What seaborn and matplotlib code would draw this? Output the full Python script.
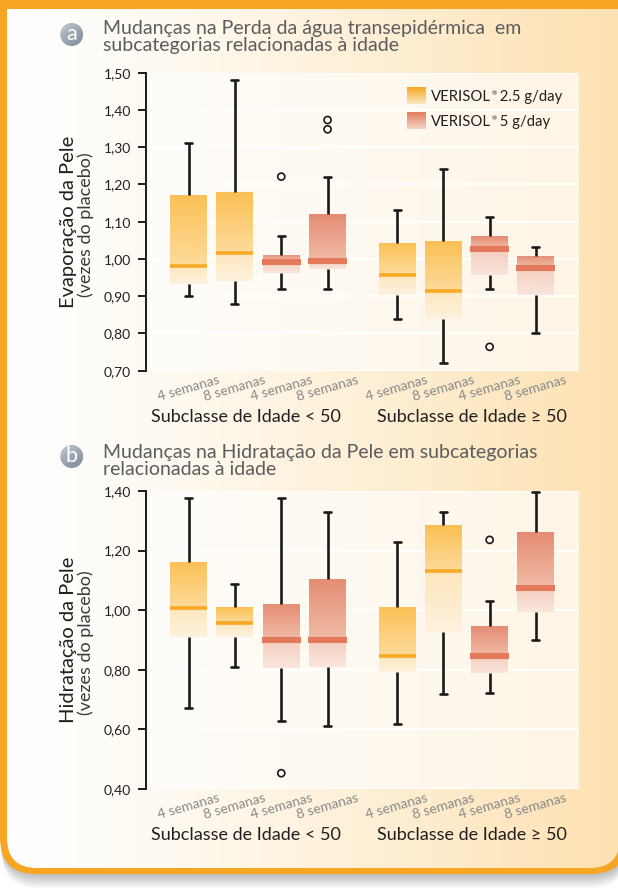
import numpy as np
import pandas as pd
import matplotlib
matplotlib.use("Agg")
import matplotlib.pyplot as plt
from matplotlib.patches import FancyBboxPatch, Circle, Rectangle
from matplotlib.colors import to_rgb
from matplotlib.ticker import FuncFormatter
import seaborn as sns

# ---------------- data ----------------
positions = [0, 1, 2, 3, 4.5, 5.5, 6.5, 7.5]
week_labels = ["4 semanas", "8 semanas", "4 semanas", "8 semanas",
               "4 semanas", "8 semanas", "4 semanas", "8 semanas"]
dose = ["2.5", "2.5", "5", "5", "2.5", "2.5", "5", "5"]
dose_order = ["2.5", "5"]
legend_brand = "VERISOL"
legend_mark = "®"
legend_rest = [" 2.5 g/day", " 5 g/day"]
group_labels = ["Subclasse de Idade < 50", "Subclasse de Idade ≥ 50"]

a_title = ["Mudanças na Perda da água transepidérmica  em",
           "subcategorias relacionadas à idade"]
a_ylabel = ["Evaporação da Pele", "(vezes do placebo)"]
a_whislo = [0.90, 0.88, 0.92, 0.92, 0.84, 0.72, 0.92, 0.80]
a_q1 = [0.933, 0.942, 0.961, 0.972, 0.902, 0.838, 0.958, 0.902]
a_med = [0.980, 1.017, 0.993, 0.995, 0.957, 0.915, 1.027, 0.977]
a_q3 = [1.172, 1.179, 1.010, 1.121, 1.043, 1.047, 1.062, 1.008]
a_whishi = [1.310, 1.480, 1.062, 1.219, 1.131, 1.242, 1.113, 1.033]
a_out_idx = [2, 3, 3, 6]
a_out_val = [1.221, 1.348, 1.373, 0.764]
a_yticks = [0.70, 0.80, 0.90, 1.00, 1.10, 1.20, 1.30, 1.40, 1.50]

b_title = ["Mudanças na Hidratação da Pele em subcategorias",
           "relacionadas à idade"]
b_ylabel = ["Hidratação da Pele", "(vezes do placebo)"]
b_whislo = [0.672, 0.809, 0.629, 0.611, 0.618, 0.720, 0.723, 0.900]
b_q1 = [0.909, 0.911, 0.805, 0.809, 0.792, 0.928, 0.789, 0.993]
b_med = [1.006, 0.958, 0.901, 0.901, 0.847, 1.133, 0.847, 1.075]
b_q3 = [1.161, 1.010, 1.021, 1.105, 1.011, 1.286, 0.946, 1.261]
b_whishi = [1.378, 1.088, 1.378, 1.330, 1.229, 1.330, 1.031, 1.397]
b_out_idx = [2, 6]
b_out_val = [0.453, 1.236]
b_yticks = [0.40, 0.60, 0.80, 1.00, 1.20, 1.40]

# ---------------- style ----------------
ORANGE = dict(top="#FBBC48", mid="#FDD995", low="#FDE5B8", bottom="#FEF2DE",
              median="#F8AA26", mlw=2.6, leg_top="#F7A823", leg_bot="#FDE8C2")
RED = dict(top="#E4846A", mid="#F0B7A1", low="#F4CBBB", bottom="#F9E5DB",
           median="#E27A5B", mlw=4.4, leg_top="#E27D5D", leg_bot="#F6D3C4")
schemes = {"2.5": ORANGE, "5": RED}
palette = {k: v["top"] for k, v in schemes.items()}

sns.set_theme(style="white")
plt.rcParams["font.family"] = ["Lato", "DejaVu Sans"]

W, H = 618, 888
fig = plt.figure(figsize=(W / 100, H / 100), dpi=100)
fig.patch.set_facecolor("white")

bg = fig.add_axes([0, 0, 1, 1], zorder=-10)
bg.set_xlim(0, W)
bg.set_ylim(H, 0)
bg.axis("off")

# shadow
for k in range(12):
    bg.add_patch(FancyBboxPatch((1, -60), 627, 934 + 1.3 * k,
                                boxstyle="round,pad=0,rounding_size=38",
                                fc="black", ec="none", alpha=0.022))
# orange frame
bg.add_patch(FancyBboxPatch((0, -60), 627, 934,
                            boxstyle="round,pad=0,rounding_size=36",
                            fc="#F6A623", ec="none"))
inner = FancyBboxPatch((7, -60), 613, 928, boxstyle="round,pad=0,rounding_size=30",
                       fc="none", ec="none")
bg.add_patch(inner)
t = np.linspace(0, 1, 512) ** 1.25
cl, cr = np.array(to_rgb("#FFFFFF")), np.array(to_rgb("#FDE1B0"))
img = (cl[None, :] * (1 - t[:, None]) + cr[None, :] * t[:, None])[None, :, :]
im = bg.imshow(img, extent=(7, 620, 868, -60), aspect="auto", interpolation="bilinear", zorder=1)
im.set_clip_path(inner)
bg.add_patch(Rectangle((0, -5), 630, 14, fc="#F6A623", ec="none", zorder=1.5))


def badge(cx, cy, letter):
    r = 11.5
    circ = Circle((cx, cy), r, fc="none", ec="none")
    bg.add_patch(circ)
    yy, xx = np.mgrid[0:1:64j, 0:1:64j]
    s = np.clip((xx * 0.6 + yy * 0.8) / 1.4, 0, 1)[..., None]
    c1, c2 = np.array(to_rgb("#C3CAD1")), np.array(to_rgb("#7B8895"))
    g = c1 * (1 - s) + c2 * s
    gi = bg.imshow(g, extent=(cx - r, cx + r, cy + r, cy - r),
                   aspect="auto", interpolation="bilinear", zorder=2)
    gi.set_clip_path(circ)
    bg.text(cx, cy - 1, letter, color="white", fontsize=15.5, ha="center",
            va="center", zorder=3)


badge(71.7, 34.5, "a")
badge(71.7, 456.5, "b")
title_kw = dict(fontsize=14, color="#5B5C5E", va="baseline", ha="left", zorder=3)
bg.text(103, 34.3, a_title[0], **title_kw)
bg.text(103, 51.5, a_title[1], **title_kw)
bg.text(103, 458.3, b_title[0], **title_kw)
bg.text(103, 474.5, b_title[1], **title_kw)

ax_left, ax_w = 150, 429
axA = fig.add_axes([ax_left / W, (H - 370.7) / H, ax_w / W, 298 / H])
axB = fig.add_axes([ax_left / W, (H - 789.0) / H, ax_w / W, 298 / H])


def vgrad(top, mid, low, bottom, frac, n=300):
    tt = np.linspace(0, 1, n)
    top, mid, low, bottom = (np.array(to_rgb(c)) for c in (top, mid, low, bottom))
    out = np.zeros((n, 1, 3))
    for i, v in enumerate(tt):
        if v < frac:
            s = v / max(frac, 1e-6)
            out[i, 0] = top * (1 - s) + mid * s
        else:
            s = (v - frac) / max(1 - frac, 1e-6)
            out[i, 0] = low * (1 - s) + bottom * s
    return out


def draw_panel(ax, whislo, q1, med, q3, whishi, out_idx, out_val, yticks, ylabel):
    rows = []
    for i, p in enumerate(positions):
        for v in (whislo[i], q1[i], med[i], q3[i], whishi[i]):
            rows.append({"pos": p, "dose": dose[i], "value": v})
    df = pd.DataFrame(rows)

    ax.patch.set_visible(False)
    tt = np.linspace(0, 1, 256)
    c1, c2 = np.array(to_rgb("#FFFDFA")), np.array(to_rgb("#FEF5E6"))
    ga = (c1[None, :] * (1 - tt[:, None]) + c2[None, :] * tt[:, None])[None, :, :]
    ax.imshow(ga, extent=(0, 1, 0, 1), transform=ax.transAxes, aspect="auto",
              interpolation="bilinear", zorder=0)

    sns.boxplot(data=df, x="pos", y="value", hue="dose", hue_order=dose_order,
                palette=palette, native_scale=True, dodge=False, width=0.8,
                whis=(0, 100), showfliers=False, linecolor="#1a1a1a",
                linewidth=1.8, legend=False, ax=ax)

    for cont in ax.containers:
        if not hasattr(cont, "boxes"):
            continue
        for i, box in enumerate(cont.boxes):
            fc = np.array(box.get_facecolor()[:3])
            key = min(schemes, key=lambda k: np.abs(fc - np.array(to_rgb(schemes[k]["top"]))).sum())
            sc = schemes[key]
            bb = box.get_path().get_extents()
            m = cont.medians[i]
            mv = float(np.mean(m.get_ydata()))
            frac = (bb.y1 - mv) / (bb.y1 - bb.y0)
            g = vgrad(sc["top"], sc["mid"], sc["low"], sc["bottom"], frac)
            gi = ax.imshow(g, extent=(bb.x0, bb.x1, bb.y0, bb.y1), origin="upper",
                           aspect="auto", interpolation="bilinear", zorder=1.8,
                           alpha=0.93)
            gi.set_clip_path(box)
            box.set_facecolor("none")
            box.set_edgecolor("none")
            m.set_color(sc["median"])
            m.set_linewidth(sc["mlw"])
            m.set_zorder(2.2)
            if key == "5":
                xd = m.get_xdata()
                xc = float(np.mean(xd))
                m.set_xdata([xc - 0.42, xc + 0.42])
            for ln in cont.whiskers[2 * i:2 * i + 2]:
                ln.set_color("#1a1a1a")
                ln.set_linewidth(1.9)
                ln.set_zorder(3)
            for cp in cont.caps[2 * i:2 * i + 2]:
                xc = float(np.mean(cp.get_xdata()))
                cp.set_xdata([xc - 0.075, xc + 0.075])
                cp.set_color("#1a1a1a")
                cp.set_linewidth(1.9)
                cp.set_zorder(3)

    sns.scatterplot(x=[positions[i] for i in out_idx], y=out_val, ax=ax,
                    marker="o", s=26, edgecolor="#1a1a1a", linewidth=1.2,
                    legend=False, zorder=4)
    coll = ax.collections[-1]
    coll.set_facecolor("none")
    coll.set_edgecolor("#1a1a1a")

    ax.set_xlim(-0.835, 8.43)
    ax.set_ylim(yticks[0], yticks[-1])
    ax.set_yticks(yticks)
    ax.yaxis.set_major_formatter(FuncFormatter(lambda v, p: f"{v:.2f}".replace(".", ",")))
    ax.set_xticks(positions)
    ax.set_xticklabels(week_labels, rotation=16, ha="center", color="#8A8A8A",
                       fontsize=10)
    ax.tick_params(axis="x", length=0, pad=2)
    ax.tick_params(axis="y", direction="out", length=6, width=1.4, color="#1a1a1a",
                   pad=4.5, labelsize=10, labelcolor="#231F20", left=True)
    ax.set_xlabel("")
    ax.set_ylabel("")
    for s in ("top", "right", "bottom"):
        ax.spines[s].set_visible(False)
    ax.spines["left"].set_position(("outward", 3))
    ax.spines["left"].set_color("#1a1a1a")
    ax.spines["left"].set_linewidth(1.4)
    ax.set_axisbelow(True)
    ax.yaxis.grid(True, color="white", linewidth=1.3)
    ax.xaxis.grid(False)
    for gl in ax.get_ygridlines():
        gl.set_zorder(1.5)

    ax.text(0.2226, -0.154, group_labels[0], transform=ax.transAxes, ha="center",
            va="center", fontsize=13, color="#231F20")
    ax.text(0.7506, -0.154, group_labels[1], transform=ax.transAxes, ha="center",
            va="center", fontsize=13, color="#231F20")
    ax.text(-0.189, 0.5, ylabel[0], transform=ax.transAxes, rotation=90, ha="center",
            va="center", fontsize=14.5, color="#231F20")
    ax.text(-0.149, 0.49, ylabel[1], transform=ax.transAxes, rotation=90, ha="center",
            va="center", fontsize=13, color="#3A3A3A")


draw_panel(axA, a_whislo, a_q1, a_med, a_q3, a_whishi, a_out_idx, a_out_val, a_yticks, a_ylabel)
draw_panel(axB, b_whislo, b_q1, b_med, b_q3, b_whishi, b_out_idx, b_out_val, b_yticks, b_ylabel)

# legend (panel a)
leg_rows = [(0.9487, 0.8950, 0.920), (0.8648, 0.8111, 0.836)]
for (y_top, y_bot, y_txt), key, rest in zip(leg_rows, dose_order, legend_rest):
    sc = schemes[key]
    c1, c2 = np.array(to_rgb(sc["leg_top"])), np.array(to_rgb(sc["leg_bot"]))
    tt = np.linspace(0, 1, 64)
    g = (c1[None, :] * (1 - tt[:, None]) + c2[None, :] * tt[:, None])[:, None, :]
    axA.imshow(g, extent=(0.599, 0.641, y_bot, y_top), transform=axA.transAxes,
               origin="upper", aspect="auto", interpolation="bilinear", zorder=5)
    t1 = axA.text(0.655, y_txt, legend_brand, transform=axA.transAxes, ha="left",
                  va="center", fontsize=10.7, color="#231F20", zorder=5)
    t2 = axA.annotate(legend_mark, xy=(1, 0.86), xycoords=t1, xytext=(0.4, 0),
                      textcoords="offset points", ha="left", va="top", fontsize=4.5,
                      color="#231F20", zorder=5)
    axA.annotate(rest, xy=(1, 0), xycoords=(t2, t1), xytext=(-0.6, 0),
                 textcoords="offset points", ha="left", va="bottom", fontsize=10.7,
                 color="#231F20", zorder=5)
axA.set_xlim(-0.835, 8.43)
axA.set_ylim(a_yticks[0], a_yticks[-1])

fig.savefig("out.png", dpi=100)
